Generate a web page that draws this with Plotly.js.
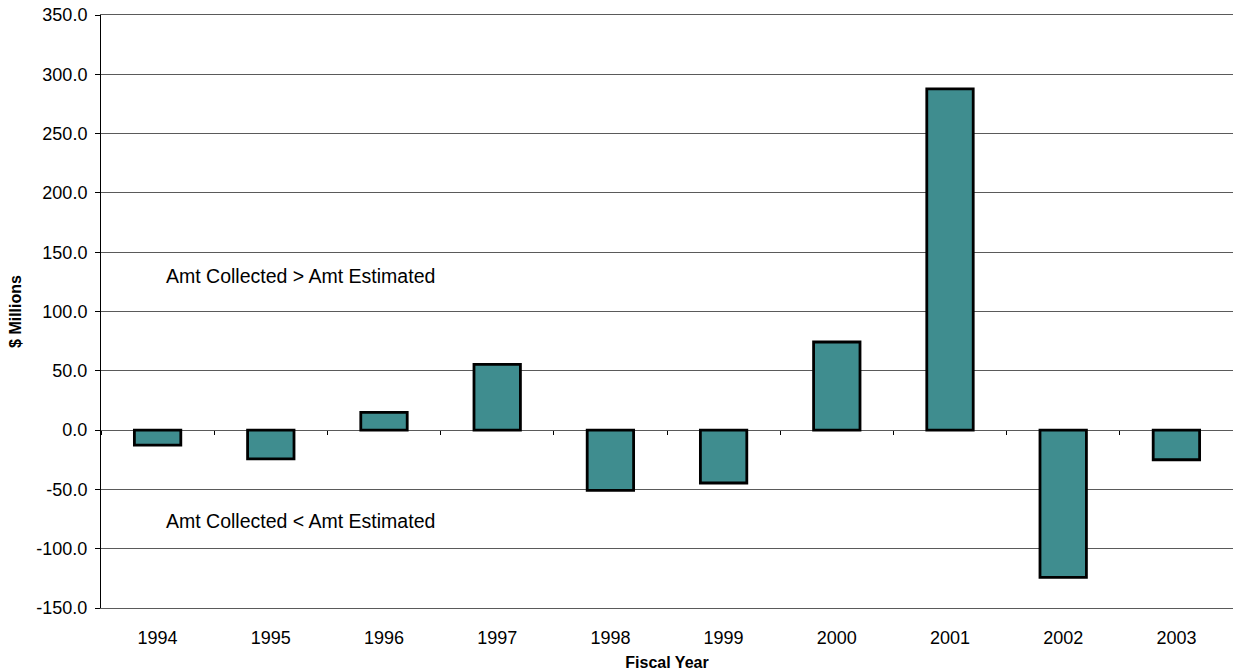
<!DOCTYPE html>
<html>
<head>
<meta charset="utf-8">
<script src="https://cdn.plot.ly/plotly-3.0.1.min.js"></script>
<style>
  html, body { margin: 0; padding: 0; background: #fff; }
  #chart { width: 1233px; height: 672px; }
</style>
</head>
<body>
<div id="chart"></div>
<script>
// Fiscal years and the difference between amount collected and amount estimated ($ millions)
const fiscalYears = ['1994', '1995', '1996', '1997', '1998', '1999', '2000', '2001', '2002', '2003'];
const difference = [-12.7, -24.3, 15.0, 55.4, -50.8, -44.6, 74.3, 287.7, -124.1, -25.0];

const yTicks = [-150, -100, -50, 0, 50, 100, 150, 200, 250, 300, 350];
// Labels use a plain hyphen for negatives
const yTickText = yTicks.map(v => v.toFixed(1));

const FONT = 'Arial, "Liberation Sans", sans-serif';
const GRID = '#5a5a5a';

const bars = {
  type: 'bar',
  x: fiscalYears,
  y: difference,
  width: 0.41,
  marker: { color: '#3F8D8F', line: { color: '#000', width: 2.8 } },
  hoverinfo: 'x+y',
  showlegend: false
};

// Invisible companion trace so the category tick marks can sit on the zero line
const zeroTicks = {
  type: 'scatter',
  mode: 'markers',
  x: fiscalYears,
  y: fiscalYears.map(() => 0),
  xaxis: 'x2',
  marker: { opacity: 0 },
  hoverinfo: 'skip',
  showlegend: false
};

const layout = {
  width: 1233,
  height: 672,
  margin: { l: 101, r: 0, t: 15, b: 64 },
  paper_bgcolor: '#fff',
  plot_bgcolor: '#fff',
  font: { family: FONT, size: 18, color: '#000' },
  xaxis: {
    type: 'category',
    range: [-0.5, 9.5],
    showgrid: false,
    showline: true,
    linecolor: GRID,
    linewidth: 1,
    mirror: true,
    ticks: '',
    ticklabelstandoff: 13,
    tickfont: { family: FONT, size: 18, color: '#000' },
    title: { text: '<b>Fiscal Year</b>', font: { family: FONT, size: 16, color: '#000' }, standoff: 10 },
    fixedrange: true
  },
  xaxis2: {
    type: 'category',
    overlaying: 'x',
    matches: 'x',
    anchor: 'free',
    position: 0.3,
    showline: false,
    showgrid: false,
    showticklabels: false,
    ticks: 'outside',
    tickson: 'boundaries',
    ticklen: 4,
    tickwidth: 1,
    tickcolor: '#000'
  },
  yaxis: {
    range: [-150, 350],
    tickmode: 'array',
    tickvals: yTicks,
    ticktext: yTickText,
    showgrid: true,
    gridcolor: GRID,
    gridwidth: 1,
    zeroline: true,
    zerolinecolor: GRID,
    zerolinewidth: 1,
    showline: true,
    linecolor: '#000',
    linewidth: 1,
    ticks: 'outside',
    ticklen: 5,
    tickcolor: '#000',
    ticklabelstandoff: 4,
    tickfont: { family: FONT, size: 18, color: '#000' },
    title: { text: '<b>$ Millions</b>', font: { family: FONT, size: 16, color: '#000' }, standoff: 10 },
    fixedrange: true
  },
  annotations: [
    {
      xref: 'paper', yref: 'y', x: 0.0557, y: 130,
      xanchor: 'left', yanchor: 'middle', showarrow: false,
      text: 'Amt Collected > Amt Estimated',
      font: { family: FONT, size: 19.5, color: '#000' }
    },
    {
      xref: 'paper', yref: 'y', x: 0.0557, y: -77,
      xanchor: 'left', yanchor: 'middle', showarrow: false,
      text: 'Amt Collected < Amt Estimated',
      font: { family: FONT, size: 19.5, color: '#000' }
    }
  ]
};

Plotly.newPlot('chart', [bars, zeroTicks], layout, { displayModeBar: false, staticPlot: true });
</script>
</body>
</html>
